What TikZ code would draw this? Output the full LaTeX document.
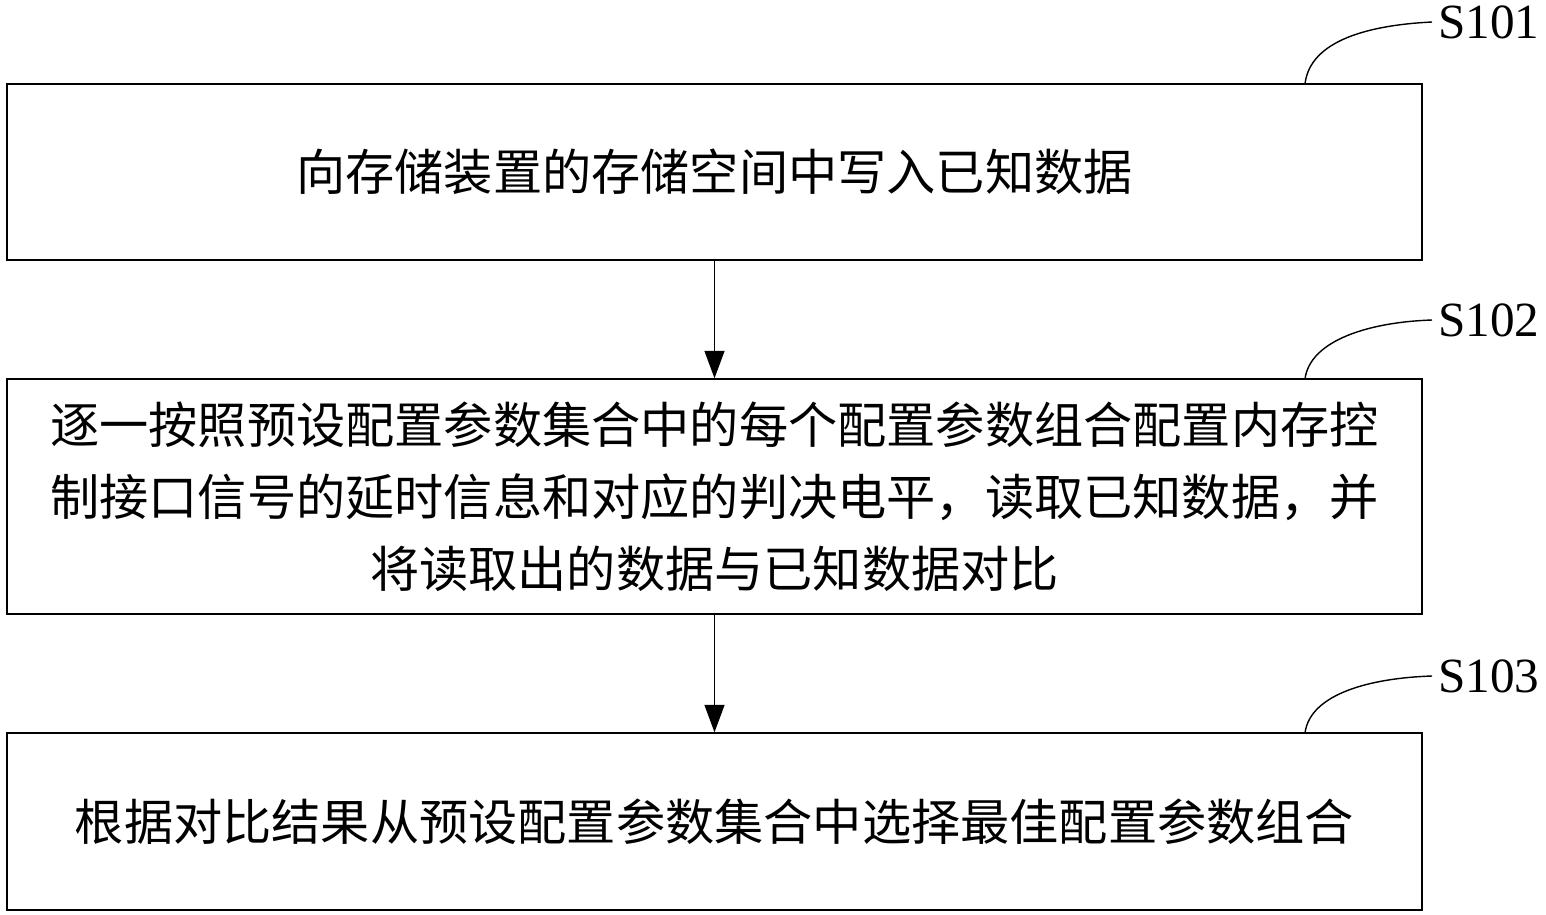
\documentclass[tikz,border=0pt]{standalone}
\usepackage{fontspec}
\setmainfont{Liberation Serif}
\newfontfamily\cjk{Noto Sans CJK SC}
\usetikzlibrary{arrows.meta}
\tikzset{
  stepbox/.style={draw, thick, minimum width=28.3cm, align=center, font=\cjk\fontsize{28}{41}\selectfont},
  tag/.style={font=\fontsize{28}{30}\selectfont, anchor=west},
  flow/.style={thick, -{Triangle[length=0.55cm, width=0.4cm]}}
}
\begin{document}
\begin{tikzpicture}[x=0.02cm, y=-0.02cm]
                \useasboundingbox (0,0) rectangle (1546,914);
                % Steps
                \node[stepbox, minimum height=3.52cm] (s1) at (714.5, 172) {向存储装置的存储空间中写入已知数据};
                \node[stepbox, minimum height=4.7cm] (s2) at (714.5, 496.5) {逐一按照预设配置参数集合中的每个配置参数组合配置内存控\\制接口信号的延时信息和对应的判决电平，读取已知数据，并\\将读取出的数据与已知数据对比};
                \node[stepbox, minimum height=3.54cm] (s3) at (714.5, 821.5) {根据对比结果从预设配置参数集合中选择最佳配置参数组合};

                \draw[flow] (s1) -- (s2);
                \draw[flow] (s2) -- (s3);

                % Step labels
                \node[tag] (t1) at (1432, 22) {S101};
                \node[tag] (t2) at (1432, 320) {S102};
                \node[tag] (t3) at (1432, 676) {S103};

                \coordinate (c1) at (1305, 84);
                \coordinate (c2) at (1305, 379);
                \coordinate (c3) at (1305, 733);
                \draw[thick] (c1) .. controls (1310, 40) and (1370, 25) .. (t1.west);
                \draw[thick] (c2) .. controls (1310, 340) and (1370, 322) .. (t2.west);
                \draw[thick] (c3) .. controls (1310, 694) and (1370, 678) .. (t3.west);
            \end{tikzpicture}
\end{document}
